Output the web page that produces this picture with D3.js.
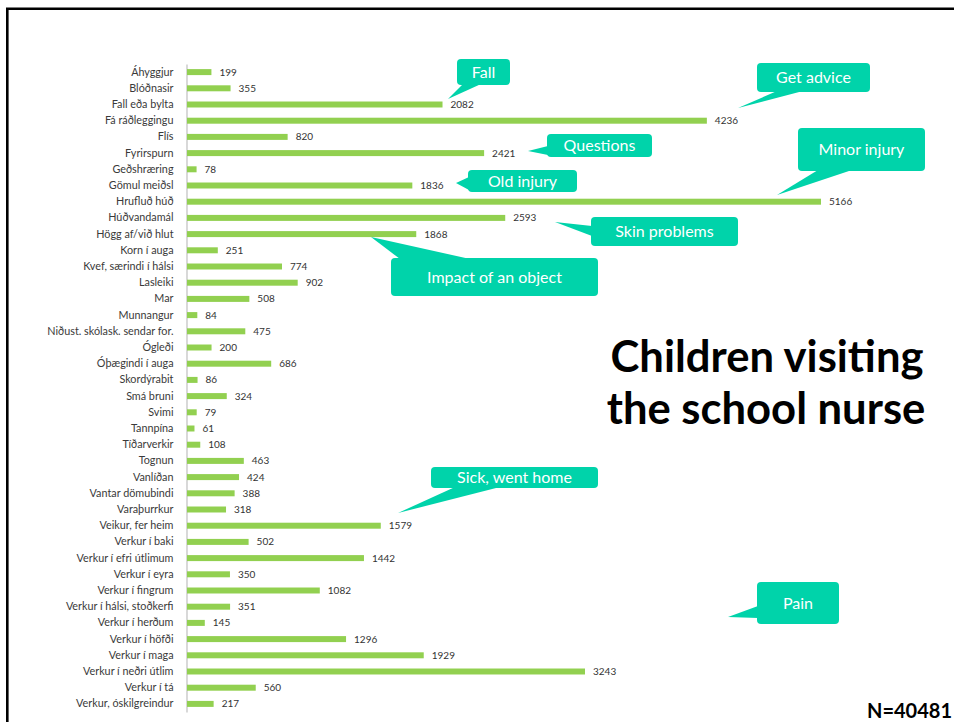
<!DOCTYPE html>
<html>
<head>
<meta charset="utf-8">
<script src="https://cdn.jsdelivr.net/npm/d3@7"></script>
<style>
  html, body { margin: 0; padding: 0; background: #fff; }
  svg { display: block; }
</style>
</head>
<body>
<svg id="chart" width="954" height="722"></svg>
<script>
// ---- data ----
const categories = [
  "Áhyggjur", "Blóðnasir", "Fall eða bylta", "Fá ráðleggingu", "Flís", "Fyrirspurn",
  "Geðshræring", "Gömul meiðsl", "Hrufluð húð", "Húðvandamál", "Högg af/við hlut",
  "Korn í auga", "Kvef, særindi í hálsi", "Lasleiki", "Mar", "Munnangur",
  "Niðust. skólask. sendar for.", "Ógleði", "Óþægindi í auga", "Skordýrabit",
  "Smá bruni", "Svimi", "Tannpína", "Tíðarverkir", "Tognun", "Vanlíðan",
  "Vantar dömubindi", "Varaþurrkur", "Veikur, fer heim", "Verkur í baki",
  "Verkur í efri útlimum", "Verkur í eyra", "Verkur í fingrum",
  "Verkur í hálsi, stoðkerfi", "Verkur í herðum", "Verkur í höfði",
  "Verkur í maga", "Verkur í neðri útlim", "Verkur í tá", "Verkur, óskilgreindur"
];
const values = [
  199, 355, 2082, 4236, 820, 2421,
  78, 1836, 5166, 2593, 1868,
  251, 774, 902, 508, 84,
  475, 200, 686, 86,
  324, 79, 61, 108, 463, 424,
  388, 318, 1579, 502,
  1442, 350, 1082,
  351, 145, 1296,
  1929, 3243, 560, 217
];
const titleLines = ["Children visiting", "the school nurse"];
const totalLabel = "N=40481";
const calloutTexts = ["Fall", "Get advice", "Questions", "Old injury", "Minor injury",
  "Skin problems", "Impact of an object", "Sick, went home", "Pain"];

// ---- layout of annotation callouts (pixels) ----
// box: [x, y, w, h]; ptr: pointer polygon [base1, base2, tip]
const calloutLayout = [
  { box: [457, 59, 53, 26],  ptr: [[463, 84], [481, 84], [448, 99]] },
  { box: [757, 63, 113, 29], ptr: [[777, 91], [803, 91], [738, 108]] },
  { box: [547, 134, 105, 23], ptr: [[548, 146], [548, 155], [528, 151]] },
  { box: [468, 170, 109, 22], ptr: [[469, 177], [469, 190], [456, 183]] },
  { box: [798, 128, 127, 43], ptr: [[818, 170], [852, 170], [777, 195]] },
  { box: [591, 217, 147, 29], ptr: [[592, 226], [592, 236], [555, 222]] },
  { box: [391, 258, 207, 38], ptr: [[400, 259], [470, 259], [371, 237]] },
  { box: [431, 467, 167, 21], ptr: [[455, 487], [500, 487], [398, 513]] },
  { box: [757, 582, 82, 42], ptr: [[758, 606], [758, 618], [728, 617]] }
];

const svg = d3.select("#chart");
const font = "Lato, 'Open Sans', 'Liberation Sans', sans-serif";
const green = "#92d050";
const teal = "#00d3aa";

// frame (top and left border)
svg.append("path")
  .attr("d", "M7.3,722 V8.7 H954")
  .attr("fill", "none")
  .attr("stroke", "#000")
  .attr("stroke-width", 2.6);

const x = d3.scaleLinear().domain([0, d3.max(values)]).range([187, 821]);
const y = d3.scaleBand().domain(categories).range([64, 712])
  .paddingInner(0.63).paddingOuter(0.315);

// axis line
const yAxis = d3.axisLeft(y).tickSize(0).tickPadding(13);
const gAxis = svg.append("g").attr("transform", "translate(186.5,0)").call(yAxis);
gAxis.select(".domain").attr("stroke", "#bfbfbf").attr("stroke-width", 1.2);
gAxis.selectAll(".tick text")
  .attr("font-family", font)
  .attr("font-size", 10.8)
  .attr("fill", "#3a3a3a");

// bars
svg.append("g").selectAll("rect")
  .data(categories)
  .join("rect")
  .attr("x", x(0))
  .attr("y", d => y(d))
  .attr("width", (d, i) => x(values[i]) - x(0))
  .attr("height", y.bandwidth())
  .attr("fill", green);

// value labels
svg.append("g").selectAll("text")
  .data(categories)
  .join("text")
  .attr("x", (d, i) => x(values[i]) + 8)
  .attr("y", d => y(d) + y.bandwidth() / 2)
  .attr("dy", "0.35em")
  .attr("font-family", font)
  .attr("font-size", 10)
  .attr("fill", "#333")
  .text((d, i) => values[i]);

// callouts
const gc = svg.append("g");
calloutLayout.forEach((c, i) => {
  const [bx, by, bw, bh] = c.box;
  gc.append("polygon")
    .attr("points", c.ptr.map(p => p.join(",")).join(" "))
    .attr("fill", teal);
  gc.append("rect")
    .attr("x", bx).attr("y", by).attr("width", bw).attr("height", bh)
    .attr("rx", 4).attr("ry", 4)
    .attr("fill", teal);
  gc.append("text")
    .attr("x", bx + bw / 2)
    .attr("y", by + bh / 2)
    .attr("dy", "0.35em")
    .attr("text-anchor", "middle")
    .attr("font-family", font)
    .attr("font-size", 16)
    .attr("fill", "#fff")
    .text(calloutTexts[i]);
});

// title
const title = svg.append("g");
const t1 = title.append("text")
  .attr("x", 767).attr("y", 372)
  .attr("text-anchor", "middle")
  .attr("font-family", font)
  .attr("font-weight", 700)
  .attr("font-size", 40)
  .attr("fill", "#000")
  .text(titleLines[0]);
const w1 = t1.node().getComputedTextLength();
const fs = 40 * 313 / w1;
t1.attr("font-size", fs);
title.append("text")
  .attr("x", 766).attr("y", 424)
  .attr("text-anchor", "middle")
  .attr("font-family", font)
  .attr("font-weight", 700)
  .attr("font-size", fs)
  .attr("fill", "#000")
  .text(titleLines[1]);

// N label
svg.append("text")
  .attr("x", 952).attr("y", 718)
  .attr("text-anchor", "end")
  .attr("font-family", font)
  .attr("font-weight", 700)
  .attr("font-size", 20)
  .attr("fill", "#000")
  .text(totalLabel);
</script>
</body>
</html>
